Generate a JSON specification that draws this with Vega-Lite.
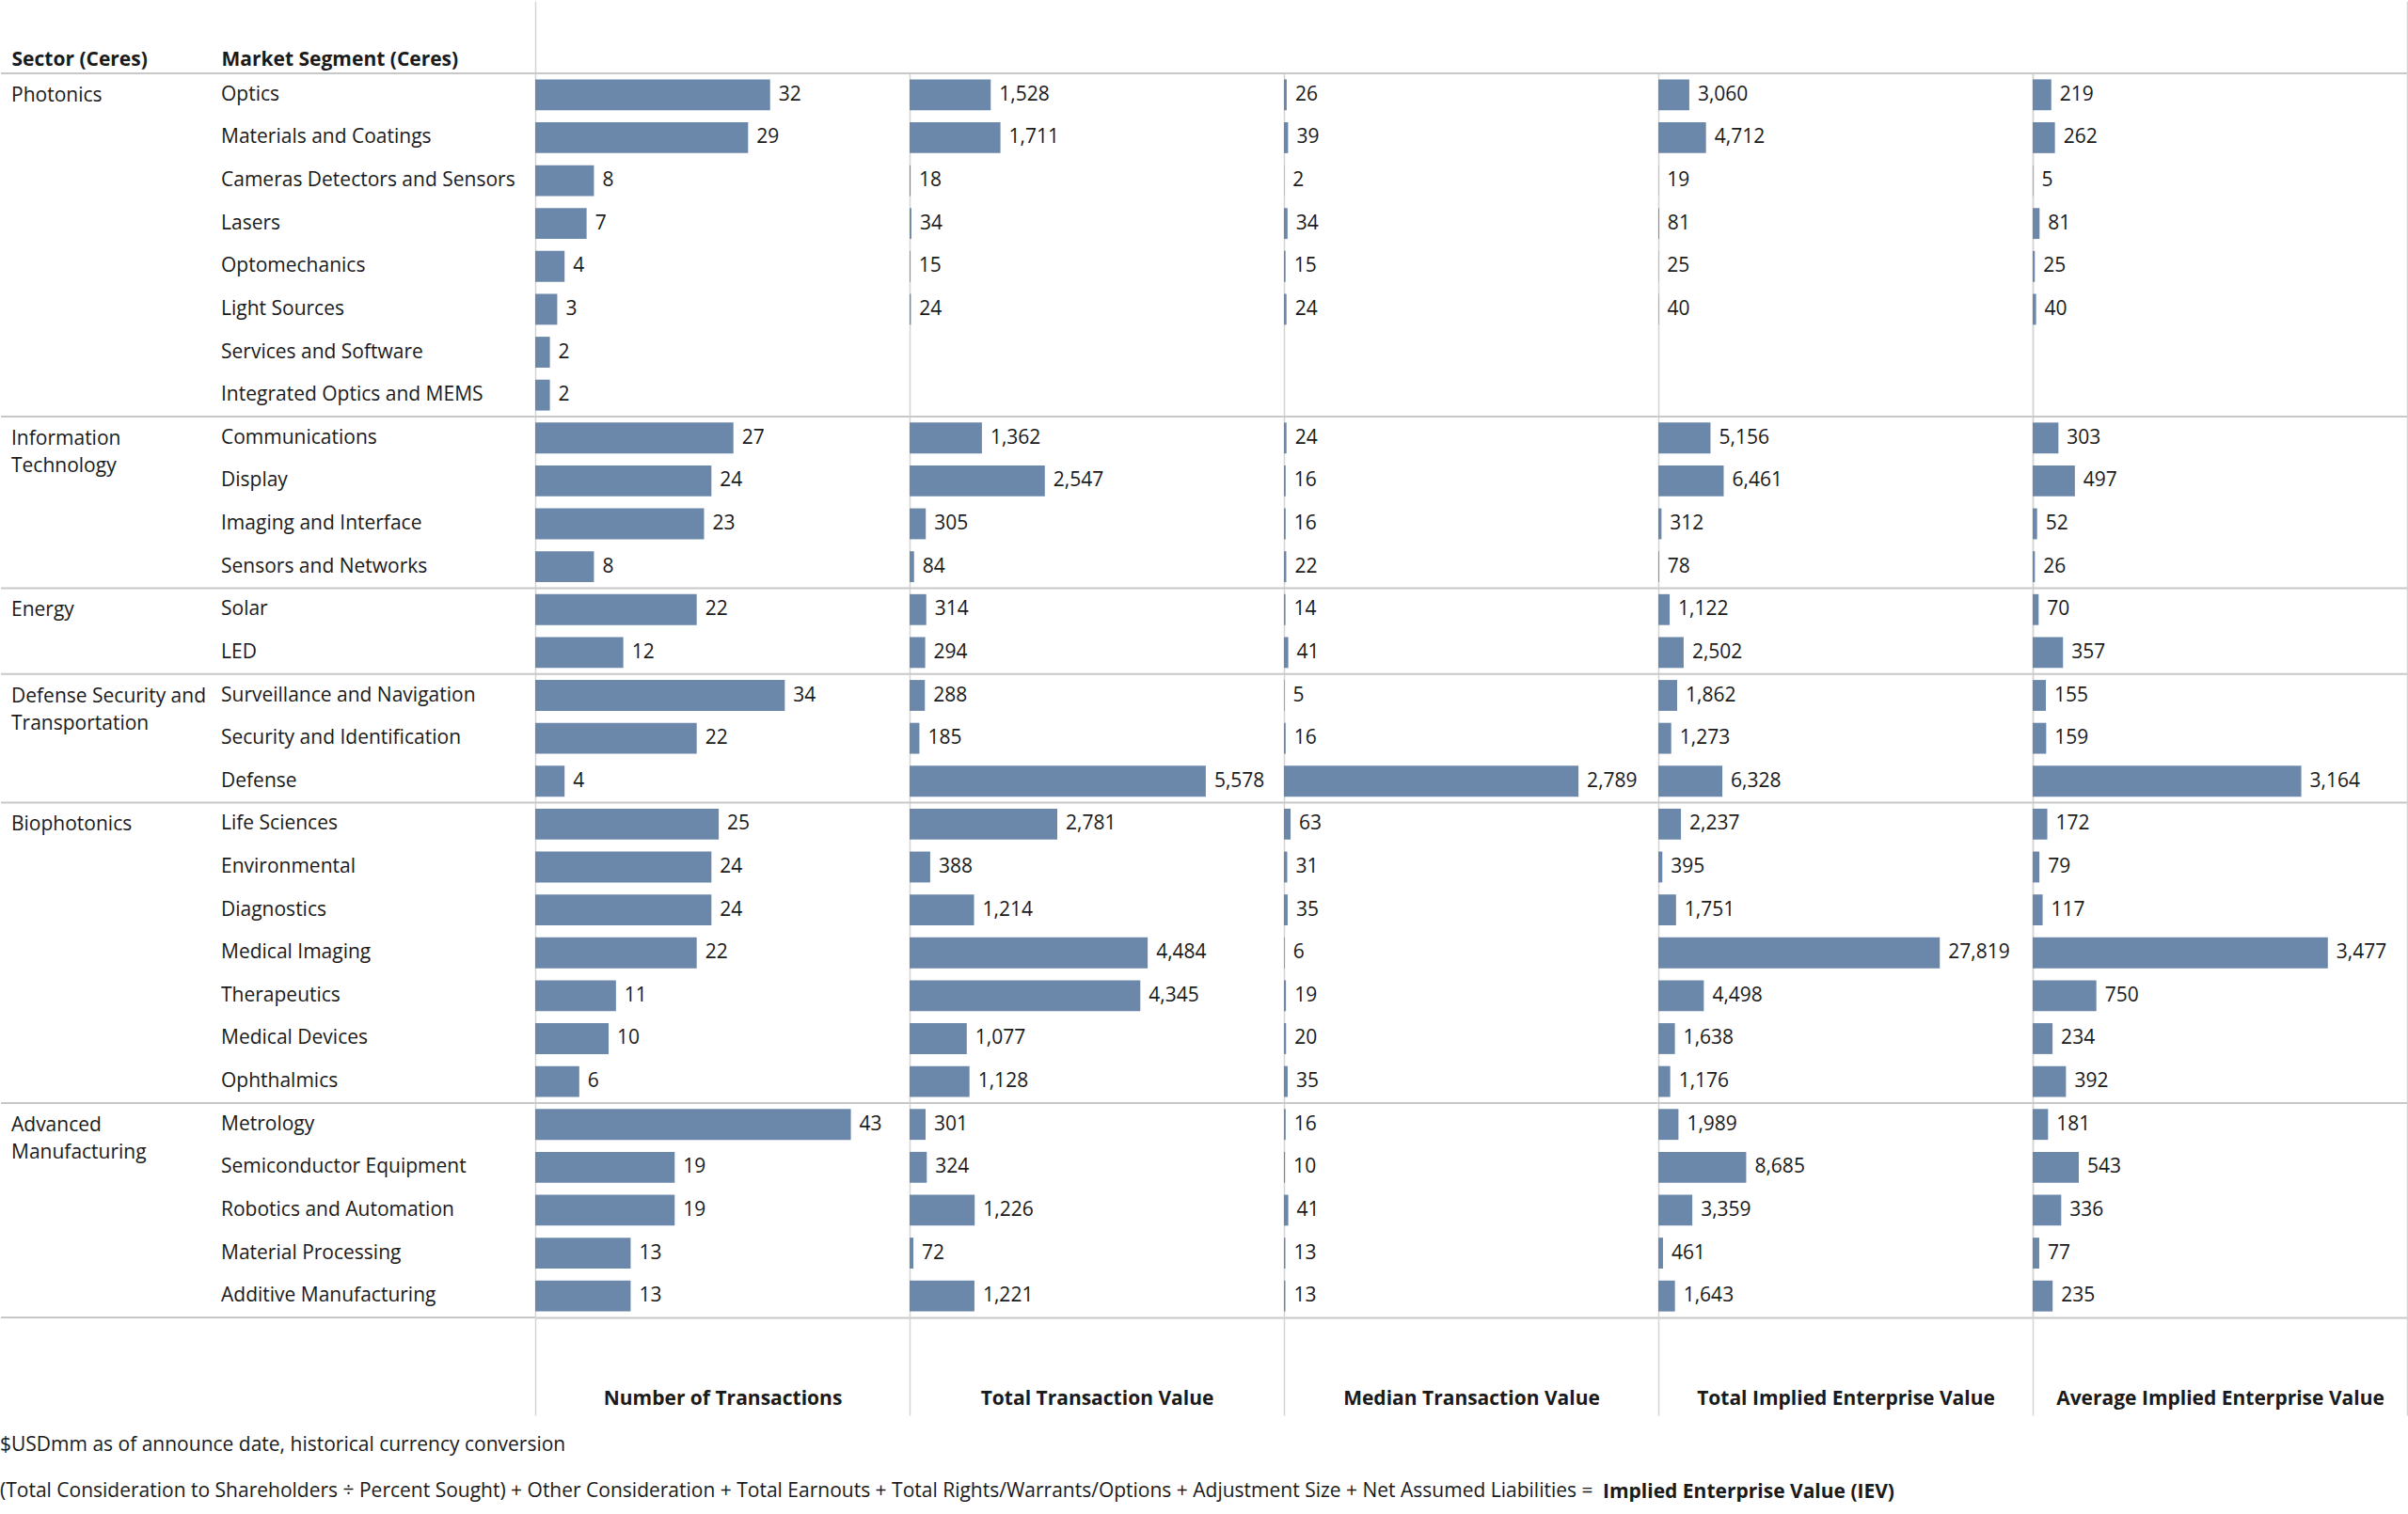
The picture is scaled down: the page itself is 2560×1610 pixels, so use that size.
{
  "$schema": "https://vega.github.io/schema/vega-lite/v6.json",
  "background": "white",
  "padding": 0,
  "config": {
    "font": "Open Sans",
    "view": {"stroke": null},
    "concat": {"spacing": 0},
    "mark": {"invalid": "break-paths-show-domains"},
    "axis": {"grid": false, "labelFont": "Open Sans", "titleFont": "Open Sans"},
    "text": {"font": "Open Sans", "fontSize": 21, "color": "#1a1a1a"}
  },
  "data": {
    "values": [
      {"sector": "Photonics", "sectorLabel": "Photonics", "segment": "Optics", "n": 32, "ttv": 1528, "mtv": 26, "tiev": 3060, "aiev": 219},
      {"sector": "Photonics", "segment": "Materials and Coatings", "n": 29, "ttv": 1711, "mtv": 39, "tiev": 4712, "aiev": 262},
      {"sector": "Photonics", "segment": "Cameras Detectors and Sensors", "n": 8, "ttv": 18, "mtv": 2, "tiev": 19, "aiev": 5},
      {"sector": "Photonics", "segment": "Lasers", "n": 7, "ttv": 34, "mtv": 34, "tiev": 81, "aiev": 81},
      {"sector": "Photonics", "segment": "Optomechanics", "n": 4, "ttv": 15, "mtv": 15, "tiev": 25, "aiev": 25},
      {"sector": "Photonics", "segment": "Light Sources", "n": 3, "ttv": 24, "mtv": 24, "tiev": 40, "aiev": 40},
      {"sector": "Photonics", "segment": "Services and Software", "n": 2, "ttv": null, "mtv": null, "tiev": null, "aiev": null},
      {"sector": "Photonics", "segment": "Integrated Optics and MEMS", "n": 2, "ttv": null, "mtv": null, "tiev": null, "aiev": null},
      {"sector": "Information Technology", "sectorLabel": "Information\nTechnology", "segment": "Communications", "n": 27, "ttv": 1362, "mtv": 24, "tiev": 5156, "aiev": 303},
      {"sector": "Information Technology", "segment": "Display", "n": 24, "ttv": 2547, "mtv": 16, "tiev": 6461, "aiev": 497},
      {"sector": "Information Technology", "segment": "Imaging and Interface", "n": 23, "ttv": 305, "mtv": 16, "tiev": 312, "aiev": 52},
      {"sector": "Information Technology", "segment": "Sensors and Networks", "n": 8, "ttv": 84, "mtv": 22, "tiev": 78, "aiev": 26},
      {"sector": "Energy", "sectorLabel": "Energy", "segment": "Solar", "n": 22, "ttv": 314, "mtv": 14, "tiev": 1122, "aiev": 70},
      {"sector": "Energy", "segment": "LED", "n": 12, "ttv": 294, "mtv": 41, "tiev": 2502, "aiev": 357},
      {"sector": "Defense Security and Transportation", "sectorLabel": "Defense Security and\nTransportation", "segment": "Surveillance and Navigation", "n": 34, "ttv": 288, "mtv": 5, "tiev": 1862, "aiev": 155},
      {"sector": "Defense Security and Transportation", "segment": "Security and Identification", "n": 22, "ttv": 185, "mtv": 16, "tiev": 1273, "aiev": 159},
      {"sector": "Defense Security and Transportation", "segment": "Defense", "n": 4, "ttv": 5578, "mtv": 2789, "tiev": 6328, "aiev": 3164},
      {"sector": "Biophotonics", "sectorLabel": "Biophotonics", "segment": "Life Sciences", "n": 25, "ttv": 2781, "mtv": 63, "tiev": 2237, "aiev": 172},
      {"sector": "Biophotonics", "segment": "Environmental", "n": 24, "ttv": 388, "mtv": 31, "tiev": 395, "aiev": 79},
      {"sector": "Biophotonics", "segment": "Diagnostics", "n": 24, "ttv": 1214, "mtv": 35, "tiev": 1751, "aiev": 117},
      {"sector": "Biophotonics", "segment": "Medical Imaging", "n": 22, "ttv": 4484, "mtv": 6, "tiev": 27819, "aiev": 3477},
      {"sector": "Biophotonics", "segment": "Therapeutics", "n": 11, "ttv": 4345, "mtv": 19, "tiev": 4498, "aiev": 750},
      {"sector": "Biophotonics", "segment": "Medical Devices", "n": 10, "ttv": 1077, "mtv": 20, "tiev": 1638, "aiev": 234},
      {"sector": "Biophotonics", "segment": "Ophthalmics", "n": 6, "ttv": 1128, "mtv": 35, "tiev": 1176, "aiev": 392},
      {"sector": "Advanced Manufacturing", "sectorLabel": "Advanced\nManufacturing", "segment": "Metrology", "n": 43, "ttv": 301, "mtv": 16, "tiev": 1989, "aiev": 181},
      {"sector": "Advanced Manufacturing", "segment": "Semiconductor Equipment", "n": 19, "ttv": 324, "mtv": 10, "tiev": 8685, "aiev": 543},
      {"sector": "Advanced Manufacturing", "segment": "Robotics and Automation", "n": 19, "ttv": 1226, "mtv": 41, "tiev": 3359, "aiev": 336},
      {"sector": "Advanced Manufacturing", "segment": "Material Processing", "n": 13, "ttv": 72, "mtv": 13, "tiev": 461, "aiev": 77},
      {"sector": "Advanced Manufacturing", "segment": "Additive Manufacturing", "n": 13, "ttv": 1221, "mtv": 13, "tiev": 1643, "aiev": 235}
    ]
  },
  "title": {
    "text": "Implied Enterprise Value (IEV)",
    "orient": "bottom",
    "anchor": "start",
    "font": "Open Sans",
    "fontSize": 21,
    "fontWeight": "bold",
    "color": "#1a1a1a",
    "offset": 0,
    "dx": 1704,
    "dy": -20
  },
  "vconcat": [
    {
      "spacing": 0,
      "bounds": "flush",
      "title": {
        "text": "$USDmm as of announce date, historical currency conversion",
        "subtitle": "(Total Consideration to Shareholders ÷ Percent Sought) + Other Consideration + Total Earnouts + Total Rights/Warrants/Options + Adjustment Size + Net Assumed Liabilities =",
        "orient": "bottom",
        "anchor": "start",
        "font": "Open Sans",
        "subtitleFont": "Open Sans",
        "fontSize": 21,
        "subtitleFontSize": 21,
        "fontWeight": "normal",
        "color": "#1a1a1a",
        "subtitleColor": "#1a1a1a",
        "offset": 20,
        "subtitlePadding": 28
      },
      "hconcat": [
        {
          "width": 568,
          "height": 1323,
          "encoding": {"y": {"field": "segment", "type": "nominal", "sort": null, "scale": {"paddingInner": 0, "paddingOuter": 0}, "axis": null}},
          "layer": [
            {
              "mark": {"type": "text", "align": "left", "baseline": "middle", "fontSize": 21, "color": "#1a1a1a"},
              "encoding": {
                "x": {"datum": "Market Segment (Ceres)", "type": "nominal",
                      "scale": {"type": "point", "domain": ["Sector (Ceres)", "Market Segment (Ceres)"], "range": [11, 234], "padding": 0},
                      "axis": {"orient": "top", "title": null, "ticks": false, "domain": false, "labelAlign": "left", "labelAngle": 0, "labelFontWeight": "bold", "labelFontSize": 21, "labelColor": "#1a1a1a", "labelPadding": 5, "labelLimit": 0}},
                "text": {"field": "segment", "type": "nominal"}
              }
            },
            {
              "mark": {"type": "text", "align": "left", "baseline": "alphabetic", "dy": 7, "fontSize": 21, "lineBreak": "\n", "lineHeight": 29, "color": "#1a1a1a"},
              "encoding": {
                "x": {"datum": "Sector (Ceres)", "type": "nominal"},
                "text": {"condition": {"test": "isValid(datum.sectorLabel)", "field": "sectorLabel", "type": "nominal"}, "value": ""}
              }
            },
            {
              "mark": {"type": "rule", "color": "#c8c8c8", "strokeWidth": 2},
              "encoding": {
                "y": {"field": "segment", "type": "nominal", "sort": null, "bandPosition": 0},
                "strokeOpacity": {"condition": {"test": "isValid(datum.sectorLabel)", "value": 1}, "value": 0}
              }
            },
            {
              "mark": {"type": "rule", "color": "#c8c8c8", "strokeWidth": 2},
              "encoding": {"y": {"datum": "Additive Manufacturing", "type": "nominal", "bandPosition": 1}}
            }
          ]
        },
        {
          "width": 398,
          "height": 1323,
          "encoding": {"y": {"field": "segment", "type": "nominal", "sort": null, "scale": {"paddingInner": 0, "paddingOuter": 0}, "axis": {"orient": "left", "labels": false, "ticks": false, "title": null, "domainColor": "#d4d4d4", "domainWidth": 1.5}}},
          "layer": [
            {
              "mark": {"type": "bar", "color": "#6b87aa", "height": {"band": 0.72}},
              "encoding": {"x": {"field": "n", "type": "quantitative", "scale": {"domain": [0, 51], "nice": false},
                "axis": {"orient": "bottom", "values": [0], "labels": false, "tickSize": 104, "tickColor": "#d4d4d4", "tickWidth": 1.5, "domainColor": "#c8c8c8", "domainWidth": 2, "title": "Number of Transactions", "titleY": 86, "titleBaseline": "middle", "titleFontSize": 21, "titleFontWeight": "bold", "titleColor": "#1a1a1a"}}}
            },
            {
              "mark": {"type": "text", "align": "left", "baseline": "middle", "dx": 9, "fontSize": 21, "color": "#1a1a1a"},
              "encoding": {"x": {"field": "n", "type": "quantitative", "axis": {"orient": "top", "values": [0], "labels": false, "tickSize": 77, "tickColor": "#d4d4d4", "tickWidth": 1.5, "domain": false, "title": null}},
                "text": {"field": "n", "type": "quantitative", "format": ",.0f"}}
            },
            {
              "mark": {"type": "rule", "color": "#c8c8c8", "strokeWidth": 2},
              "encoding": {"y": {"field": "segment", "type": "nominal", "sort": null, "bandPosition": 0},
                "strokeOpacity": {"condition": {"test": "isValid(datum.sectorLabel)", "value": 1}, "value": 0}}
            }
          ]
        },
        {
          "width": 398,
          "height": 1323,
          "encoding": {"y": {"field": "segment", "type": "nominal", "sort": null, "scale": {"paddingInner": 0, "paddingOuter": 0}, "axis": {"orient": "left", "labels": false, "ticks": false, "title": null, "domainColor": "#d4d4d4", "domainWidth": 1.5}}},
          "layer": [
            {
              "mark": {"type": "bar", "color": "#6b87aa", "height": {"band": 0.72}},
              "encoding": {"x": {"field": "ttv", "type": "quantitative", "scale": {"domain": [0, 7050], "nice": false},
                "axis": {"orient": "bottom", "values": [0], "labels": false, "tickSize": 104, "tickColor": "#d4d4d4", "tickWidth": 1.5, "domainColor": "#c8c8c8", "domainWidth": 2, "title": "Total Transaction Value", "titleY": 86, "titleBaseline": "middle", "titleFontSize": 21, "titleFontWeight": "bold", "titleColor": "#1a1a1a"}}}
            },
            {
              "mark": {"type": "text", "align": "left", "baseline": "middle", "dx": 9, "fontSize": 21, "color": "#1a1a1a"},
              "encoding": {"x": {"field": "ttv", "type": "quantitative"},
                "text": {"field": "ttv", "type": "quantitative", "format": ",.0f"}}
            },
            {
              "mark": {"type": "rule", "color": "#c8c8c8", "strokeWidth": 2},
              "encoding": {"y": {"field": "segment", "type": "nominal", "sort": null, "bandPosition": 0},
                "strokeOpacity": {"condition": {"test": "isValid(datum.sectorLabel)", "value": 1}, "value": 0}}
            }
          ]
        },
        {
          "width": 398,
          "height": 1323,
          "encoding": {"y": {"field": "segment", "type": "nominal", "sort": null, "scale": {"paddingInner": 0, "paddingOuter": 0}, "axis": {"orient": "left", "labels": false, "ticks": false, "title": null, "domainColor": "#d4d4d4", "domainWidth": 1.5}}},
          "layer": [
            {
              "mark": {"type": "bar", "color": "#6b87aa", "height": {"band": 0.72}},
              "encoding": {"x": {"field": "mtv", "type": "quantitative", "scale": {"domain": [0, 3545], "nice": false},
                "axis": {"orient": "bottom", "values": [0], "labels": false, "tickSize": 104, "tickColor": "#d4d4d4", "tickWidth": 1.5, "domainColor": "#c8c8c8", "domainWidth": 2, "title": "Median Transaction Value", "titleY": 86, "titleBaseline": "middle", "titleFontSize": 21, "titleFontWeight": "bold", "titleColor": "#1a1a1a"}}}
            },
            {
              "mark": {"type": "text", "align": "left", "baseline": "middle", "dx": 9, "fontSize": 21, "color": "#1a1a1a"},
              "encoding": {"x": {"field": "mtv", "type": "quantitative"},
                "text": {"field": "mtv", "type": "quantitative", "format": ",.0f"}}
            },
            {
              "mark": {"type": "rule", "color": "#c8c8c8", "strokeWidth": 2},
              "encoding": {"y": {"field": "segment", "type": "nominal", "sort": null, "bandPosition": 0},
                "strokeOpacity": {"condition": {"test": "isValid(datum.sectorLabel)", "value": 1}, "value": 0}}
            }
          ]
        },
        {
          "width": 398,
          "height": 1323,
          "encoding": {"y": {"field": "segment", "type": "nominal", "sort": null, "scale": {"paddingInner": 0, "paddingOuter": 0}, "axis": {"orient": "left", "labels": false, "ticks": false, "title": null, "domainColor": "#d4d4d4", "domainWidth": 1.5}}},
          "layer": [
            {
              "mark": {"type": "bar", "color": "#6b87aa", "height": {"band": 0.72}},
              "encoding": {"x": {"field": "tiev", "type": "quantitative", "scale": {"domain": [0, 37000], "nice": false},
                "axis": {"orient": "bottom", "values": [0], "labels": false, "tickSize": 104, "tickColor": "#d4d4d4", "tickWidth": 1.5, "domainColor": "#c8c8c8", "domainWidth": 2, "title": "Total Implied Enterprise Value", "titleY": 86, "titleBaseline": "middle", "titleFontSize": 21, "titleFontWeight": "bold", "titleColor": "#1a1a1a"}}}
            },
            {
              "mark": {"type": "text", "align": "left", "baseline": "middle", "dx": 9, "fontSize": 21, "color": "#1a1a1a"},
              "encoding": {"x": {"field": "tiev", "type": "quantitative"},
                "text": {"field": "tiev", "type": "quantitative", "format": ",.0f"}}
            },
            {
              "mark": {"type": "rule", "color": "#c8c8c8", "strokeWidth": 2},
              "encoding": {"y": {"field": "segment", "type": "nominal", "sort": null, "bandPosition": 0},
                "strokeOpacity": {"condition": {"test": "isValid(datum.sectorLabel)", "value": 1}, "value": 0}}
            }
          ]
        },
        {
          "width": 398,
          "height": 1323,
          "encoding": {"y": {"field": "segment", "type": "nominal", "sort": null, "scale": {"paddingInner": 0, "paddingOuter": 0}, "axis": {"orient": "left", "labels": false, "ticks": false, "title": null, "domainColor": "#d4d4d4", "domainWidth": 1.5}}},
          "layer": [
            {
              "mark": {"type": "bar", "color": "#6b87aa", "height": {"band": 0.72}},
              "encoding": {"x": {"field": "aiev", "type": "quantitative", "scale": {"domain": [0, 4410], "nice": false},
                "axis": {"orient": "bottom", "values": [0, 4410], "labels": false, "tickSize": 104, "tickColor": "#d4d4d4", "tickWidth": 1.5, "domainColor": "#c8c8c8", "domainWidth": 2, "title": "Average Implied Enterprise Value", "titleY": 86, "titleBaseline": "middle", "titleFontSize": 21, "titleFontWeight": "bold", "titleColor": "#1a1a1a"}}}
            },
            {
              "mark": {"type": "text", "align": "left", "baseline": "middle", "dx": 9, "fontSize": 21, "color": "#1a1a1a"},
              "encoding": {"x": {"field": "aiev", "type": "quantitative", "axis": {"orient": "top", "values": [4410], "labels": false, "tickSize": 77, "tickColor": "#d4d4d4", "tickWidth": 1.5, "domain": false, "title": null}},
                "y": {"field": "segment", "type": "nominal", "sort": null, "axis": {"orient": "right", "labels": false, "ticks": false, "title": null, "domainColor": "#d4d4d4", "domainWidth": 1.5}},
                "text": {"field": "aiev", "type": "quantitative", "format": ",.0f"}}
            },
            {
              "mark": {"type": "rule", "color": "#c8c8c8", "strokeWidth": 2},
              "encoding": {"y": {"field": "segment", "type": "nominal", "sort": null, "bandPosition": 0},
                "strokeOpacity": {"condition": {"test": "isValid(datum.sectorLabel)", "value": 1}, "value": 0}}
            }
          ]
        }
      ]
    }
  ]
}
